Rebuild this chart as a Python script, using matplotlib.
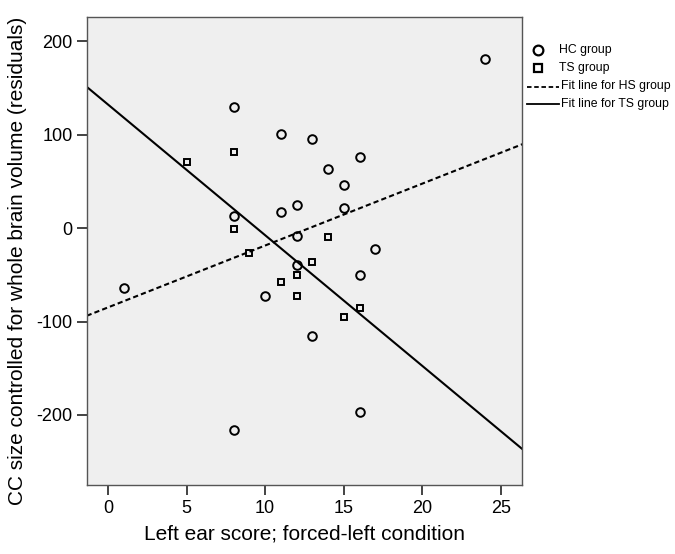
import matplotlib
matplotlib.use("Agg")
import matplotlib.pyplot as plt
import numpy as np
from matplotlib.lines import Line2D

plt.rcParams['font.family'] = ['Liberation Sans', 'DejaVu Sans']

# HC group (circles)
hc_x = [24, 8, 11, 13, 16, 14, 15, 12, 11, 15, 8, 12, 17, 1, 12, 16, 10, 13, 16, 8]
hc_y = [181, 130, 101, 95, 76, 63, 46, 25, 17, 22, 13, -8, -22, -64, -40, -50, -73, -116, -197, -216]
# TS group (squares)
ts_x = [8, 5, 8, 14, 9, 13, 12, 11, 12, 16, 15]
ts_y = [81, 71, -1, -10, -27, -36, -50, -58, -73, -85, -95]
# Fit lines (intercept, slope)
fit_hs = [-84.9, 6.63]
fit_ts = [132.4, -14.0]

x_ticks = [0, 5, 10, 15, 20, 25]
y_ticks = [-200, -100, 0, 100, 200]
legend_labels = ["HC group", "TS group", "Fit line for HS group", "Fit line for TS group"]

W, H = 675, 554
fig = plt.figure(figsize=(6.75, 5.54), dpi=100)
ax = fig.add_axes([0.1284, 0.1245, 0.6454, 0.8448])
ax.set_facecolor('#efefef')

xlim = (-1.35, 26.35)
ylim = (-275, 226)
xs = np.array(xlim)
dash = (0, (2.5, 1.5))
ax.plot(xs, fit_hs[0] + fit_hs[1] * xs, color='black', lw=1.5, ls=dash, zorder=2)
ax.plot(xs, fit_ts[0] + fit_ts[1] * xs, color='black', lw=1.5, ls='-', zorder=2)

ax.plot(hc_x, hc_y, ls='none', marker='o', ms=6.2, mfc='none', mec='black', mew=1.4, zorder=3)
ax.plot(ts_x, ts_y, ls='none', marker='s', ms=4.2, mfc='none', mec='black', mew=1.4, zorder=3)

ax.set_xlim(*xlim)
ax.set_ylim(*ylim)
ax.set_xticks(x_ticks)
ax.set_yticks(y_ticks)
ax.set_xticklabels([str(t) for t in x_ticks])
ax.set_yticklabels([str(t) for t in y_ticks])
ax.tick_params(axis='both', direction='out', length=7, width=1.2, color='#222222',
               labelsize=13, pad=3)
ax.tick_params(axis='x', pad=4)
for s in ax.spines.values():
    s.set_color('#555555')
    s.set_linewidth(1.0)

ax.set_xlabel("Left ear score; forced-left condition", fontsize=15, labelpad=5)
ax.set_ylabel("CC size controlled for whole brain volume (residuals)", fontsize=15)
ax.yaxis.set_label_coords(-0.136, 0.478)

# Manual legend in pixel-based figure coordinates
def fx(px):
    return px / W

def fy(py):
    return 1 - py / H

rows_y = [50, 68, 86.5, 104]
tf = fig.transFigure
fig.add_artist(Line2D([fx(538)], [fy(rows_y[0])], transform=tf, ls='none', marker='o', ms=7,
                      mfc='none', mec='black', mew=1.6))
fig.add_artist(Line2D([fx(538)], [fy(rows_y[1])], transform=tf, ls='none', marker='s', ms=5.5,
                      mfc='none', mec='black', mew=1.6))
fig.add_artist(Line2D([fx(527), fx(559)], [fy(rows_y[2])] * 2, transform=tf, color='black',
                      lw=1.3, ls=(0, (2.5, 1.5))))
fig.add_artist(Line2D([fx(527), fx(559)], [fy(rows_y[3])] * 2, transform=tf, color='black',
                      lw=1.3, ls='-'))
text_x = [559, 559, 561, 561]
for lab, tx, ty in zip(legend_labels, text_x, rows_y):
    fig.text(fx(tx), fy(ty), lab, fontsize=8.8, va='center', ha='left')

fig.savefig("out.png", dpi=100)
